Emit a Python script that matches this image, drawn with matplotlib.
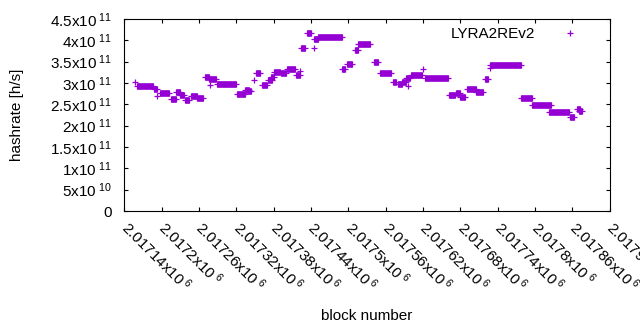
import numpy as np
import matplotlib.pyplot as plt

plt.rcParams['font.family'] = 'Liberation Sans'
plt.rcParams['mathtext.fontset'] = 'custom'
plt.rcParams['mathtext.rm'] = 'Liberation Sans'
plt.rcParams['mathtext.it'] = 'Liberation Sans:italic'
plt.rcParams['mathtext.bf'] = 'Liberation Sans:bold'

# runs of blocks with (almost) the same hashrate: first block, last block, rate in GH/s
seg_start = [2017160, 2017188, 2017197, 2017215, 2017223, 2017230, 2017238, 2017247,
             2017257, 2017270, 2017276, 2017289, 2017321, 2017334, 2017339, 2017352,
             2017361, 2017371, 2017375, 2017381, 2017392, 2017402, 2017416, 2017424,
             2017434, 2017445, 2017452, 2017490, 2017498, 2017510, 2017516, 2017542,
             2017551, 2017571, 2017580, 2017587, 2017593, 2017600, 2017624, 2017662,
             2017673, 2017680, 2017690, 2017705, 2017719, 2017728, 2017778, 2017796,
             2017823, 2017857, 2017868, 2017871]
seg_end = [2017186, 2017192, 2017212, 2017223, 2017229, 2017236, 2017244, 2017257,
           2017266, 2017276, 2017287, 2017320, 2017334, 2017340, 2017344, 2017358,
           2017369, 2017377, 2017381, 2017390, 2017400, 2017415, 2017422, 2017430,
           2017440, 2017451, 2017489, 2017495, 2017506, 2017516, 2017535, 2017548,
           2017569, 2017577, 2017586, 2017593, 2017599, 2017619, 2017661, 2017672,
           2017680, 2017688, 2017705, 2017717, 2017725, 2017778, 2017796, 2017825,
           2017854, 2017863, 2017873, 2017876]
seg_rate = [292, 286, 276, 262.5, 280, 272, 260, 270,
            264, 315, 309, 297, 273.5, 283.6, 282.4, 322.7,
            295, 307, 314, 326, 323, 332, 319, 381,
            417, 402, 407, 333, 344.5, 377, 391, 349,
            322.7, 301.6, 297, 303, 311, 318.8, 311, 272,
            277, 268, 286, 279, 309, 342, 264, 248,
            231, 219.6, 240, 234]

# isolated blocks
pt_block = [2017157, 2017192, 2017278, 2017349, 2017423, 2017445, 2017596, 2017620, 2017727]
pt_rate = [302, 270, 295, 307, 329, 381, 294, 333, 336]

x_ticks = [2017140, 2017200, 2017260, 2017320, 2017380, 2017440, 2017500,
           2017560, 2017620, 2017680, 2017740, 2017800, 2017860, 2017920]
x_labels = ['2.01714', '2.0172', '2.01726', '2.01732', '2.01738', '2.01744', '2.0175',
            '2.01756', '2.01762', '2.01768', '2.01774', '2.0178', '2.01786', '2.01792']
y_ticks = [0, 5e10, 1e11, 1.5e11, 2e11, 2.5e11, 3e11, 3.5e11, 4e11, 4.5e11]
y_labels = ['0', '5x10$^{\\ 10}$', '1x10$^{\\ 11}$', '1.5x10$^{\\ 11}$', '2x10$^{\\ 11}$',
            '2.5x10$^{\\ 11}$', '3x10$^{\\ 11}$', '3.5x10$^{\\ 11}$', '4x10$^{\\ 11}$',
            '4.5x10$^{\\ 11}$']

color = '#9400d3'
seg_rate = np.array(seg_rate) * 1e9
pt_rate = np.array(pt_rate) * 1e9

fig = plt.figure(figsize=(6.4, 3.3), dpi=100)
ax = fig.add_axes([0.1944, 0.3606, 0.7581, 0.5818])

ax.hlines(seg_rate, seg_start, seg_end, colors=color, linewidth=4.8, capstyle='butt')
ax.plot(seg_start, seg_rate, '+', ms=5, mew=0.9, color=color)
ax.plot(seg_end, seg_rate, '+', ms=5, mew=0.9, color=color)
ax.plot(pt_block, pt_rate, '+', ms=5, mew=0.9, color=color, label='LYRA2REv2')

ax.set_xlim(2017140, 2017920)
ax.set_ylim(0, 4.5e11)
ax.set_xticks(x_ticks)
ax.set_xticklabels([s + 'x10$^{\\ 6}$' for s in x_labels], rotation=-45, ha='left',
                   va='center', rotation_mode='anchor', fontsize=11)
ax.set_yticks(y_ticks)
ax.set_yticklabels(y_labels, fontsize=11)
ax.tick_params(axis='both', direction='in', length=3.2, width=0.8, top=True, right=True)
ax.tick_params(axis='y', pad=9)
ax.tick_params(axis='x', pad=10)
for sp in ax.spines.values():
    sp.set_linewidth(0.8)

ax.set_xlabel('block number', fontsize=11)
ax.xaxis.set_label_coords(0.5, -0.51)
ax.set_ylabel('hashrate [h/s]', fontsize=11)
ax.yaxis.set_label_coords(-0.207, 0.5)

ax.legend(loc='upper right', bbox_to_anchor=(0.962, 0.958), markerfirst=False, frameon=False,
          fontsize=11, handlelength=2.8, handletextpad=0.9, borderpad=0, borderaxespad=0,
          numpoints=1)

fig.savefig('out.png', dpi=100)
